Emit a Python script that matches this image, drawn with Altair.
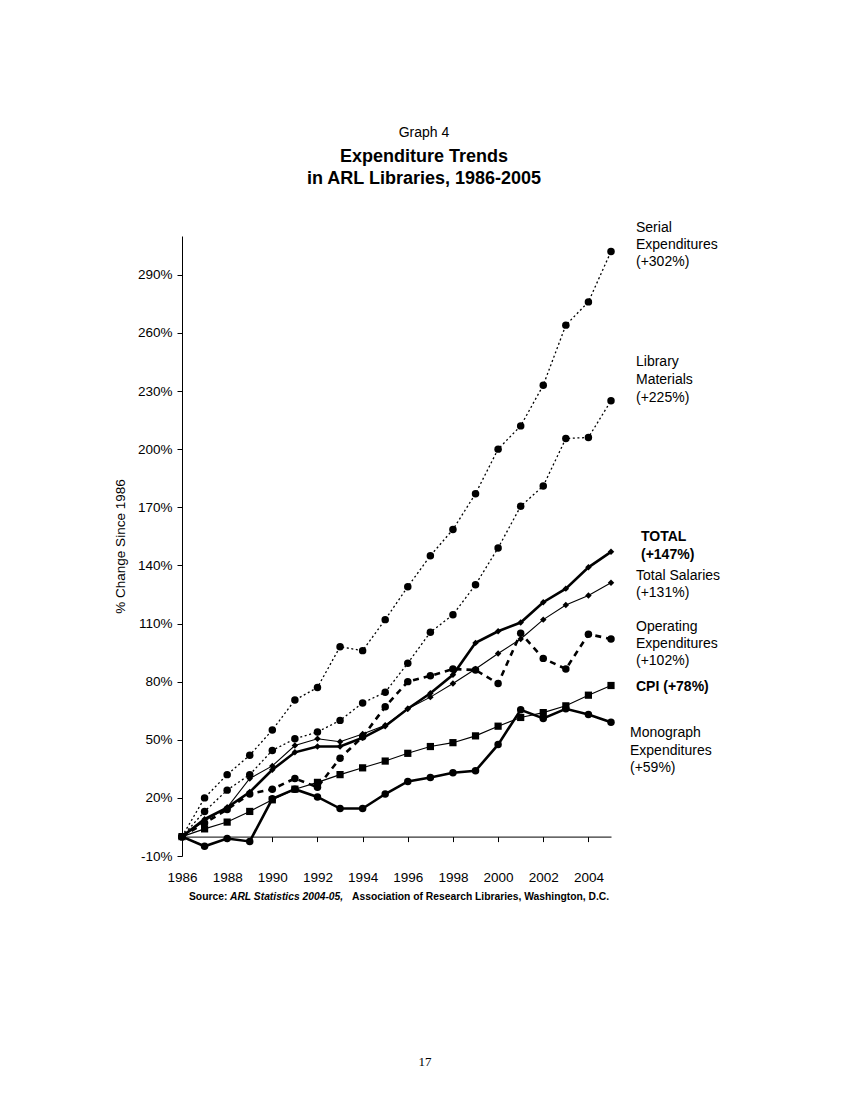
import altair as alt
import pandas as pd

years = list(range(1986, 2006))
serial = [0, 20, 32, 42, 55, 70.5, 77, 98, 96, 112, 129, 145, 158.5, 177, 200, 212, 233, 264, 276, 302]
library = [0, 13, 24, 32, 44.5, 50.5, 54, 60, 69, 74.5, 89.5, 105.5, 114.5, 130, 149, 170.5, 181, 205.5, 206, 225]
total = [0, 9, 15, 23, 34.5, 43.5, 46.5, 46.5, 51, 57, 66, 74, 83.5, 100, 106, 110.5, 121, 128, 139, 147]
salaries = [0, 8, 15, 30, 36.5, 47, 50.5, 49, 53, 57.5, 66, 72, 79, 86.5, 94.5, 102, 112, 119.5, 124.5, 131]
operating = [0, 7, 14, 22, 24.5, 30, 25.5, 40.5, 51.5, 67, 80, 83, 86.5, 86, 79, 105, 92, 86.5, 104.5, 102]
cpi = [0, 4, 7.5, 13, 19, 24.5, 28, 32, 35.5, 39, 43, 46.5, 48.5, 52, 57, 61.5, 64, 67.5, 73, 78]
monograph = [0, -5, -1, -2.5, 19.5, 24.5, 20.5, 14.5, 14.5, 22, 28.5, 30.5, 33, 34, 47.5, 65.5, 61, 66, 63, 59]

x_ticks = [1986, 1988, 1990, 1992, 1994, 1996, 1998, 2000, 2002, 2004]
y_ticks = [-10, 20, 50, 80, 110, 140, 170, 200, 230, 260, 290]

FONT = "Liberation Sans"

series = [
    ("Serial", serial, dict(strokeWidth=1.3, strokeDash=[2, 2.6]), "circle", 56),
    ("Library", library, dict(strokeWidth=1.3, strokeDash=[2, 2.6]), "circle", 56),
    ("Operating", operating, dict(strokeWidth=2.6, strokeDash=[6, 5]), "circle", 56),
    ("CPI", cpi, dict(strokeWidth=1.1), "square", 52),
    ("Salaries", salaries, dict(strokeWidth=1.1), "diamond", 42),
    ("Monograph", monograph, dict(strokeWidth=2.6), "circle", 56),
    ("Total", total, dict(strokeWidth=2.6), "diamond", 42),
]

x_enc = alt.X(
    "year:Q",
    scale=alt.Scale(domain=[1986, 2005], nice=False, zero=False),
    axis=alt.Axis(
        values=x_ticks, format="d", title=None, grid=False,
        offset=-19.4, tickSize=5, labelPadding=29, labelFlush=False,
        labelOverlap=False, labelFontSize=13.5, labelFont=FONT,
        domainColor="black", tickColor="black", labelColor="black",
        domainWidth=1, tickWidth=1,
    ),
)
y_enc = alt.Y(
    "value:Q",
    scale=alt.Scale(domain=[-10, 310], nice=False, zero=False),
    axis=alt.Axis(
        values=y_ticks, labelExpr="datum.value + '%'", title="% Change Since 1986",
        grid=False, tickSize=5, labelPadding=5, labelFontSize=13.5, labelFont=FONT,
        titleFont=FONT, titleFontSize=13.5, titleFontWeight="normal", titlePadding=10,
        domainColor="black", tickColor="black", labelColor="black", titleColor="black",
        domainWidth=1, tickWidth=1,
    ),
)

layers = []
for name, vals, style, shape, size in series:
    df = pd.DataFrame({"year": years, "value": vals, "series": name})
    base = alt.Chart(df)
    layers.append(base.mark_line(color="black", **style).encode(x=x_enc, y=y_enc))
    layers.append(
        base.mark_point(shape=shape, size=size, filled=True, color="black", opacity=1)
        .encode(x=x_enc, y=y_enc)
    )


def txt(s, px, py, size=14, weight="normal", style="normal", align="left",
        baseline="middle", font=FONT, line_h=17):
    return alt.Chart(pd.DataFrame({"t": [s]})).mark_text(
        align=align, baseline=baseline, fontSize=size, fontWeight=weight,
        fontStyle=style, font=font, color="black", lineBreak="\n", lineHeight=line_h,
    ).encode(x=alt.value(px), y=alt.value(py), text="t:N")


annotations = [
    txt("Graph 4", 242, -99, size=14, align="center", baseline="alphabetic"),
    txt("Expenditure Trends", 242, -74.5, size=18, weight="bold", align="center", baseline="alphabetic"),
    txt("in ARL Libraries, 1986-2005", 242, -52.5, size=18, weight="bold", align="center", baseline="alphabetic"),
    txt("Serial\nExpenditures\n(+302%)", 454, -8, line_h=17),
    txt("Library\nMaterials\n(+225%)", 454, 126, line_h=18),
    txt("TOTAL\n(+147%)", 459, 301, weight="bold", line_h=18),
    txt("Total Salaries\n(+131%)", 454, 340, line_h=17),
    txt("Operating\nExpenditures\n(+102%)", 454, 391, line_h=17),
    txt("CPI (+78%)", 454, 451, weight="bold"),
    txt("Monograph\nExpenditures\n(+59%)", 448, 497, line_h=17.5),
    txt("Source:", 7, 661, size=10.3, weight="bold"),
    txt("ARL Statistics 2004-05,", 48, 661, size=10.3, weight="bold", style="italic"),
    txt("Association of Research Libraries, Washington, D.C.", 170, 661, size=10.3, weight="bold"),
    txt("17", 243, 826, size=13, align="center", font="Liberation Serif"),
]

chart = alt.layer(*layers, *annotations).properties(
    width=429,
    height=620,
    padding={"left": 174, "top": 228, "right": 200, "bottom": 220},
    autosize=alt.AutoSizeParams(type="none"),
).configure(background="white", view=alt.ViewConfig(stroke=None))

chart.save("out.html", embed_options={"renderer": "svg", "actions": False})
